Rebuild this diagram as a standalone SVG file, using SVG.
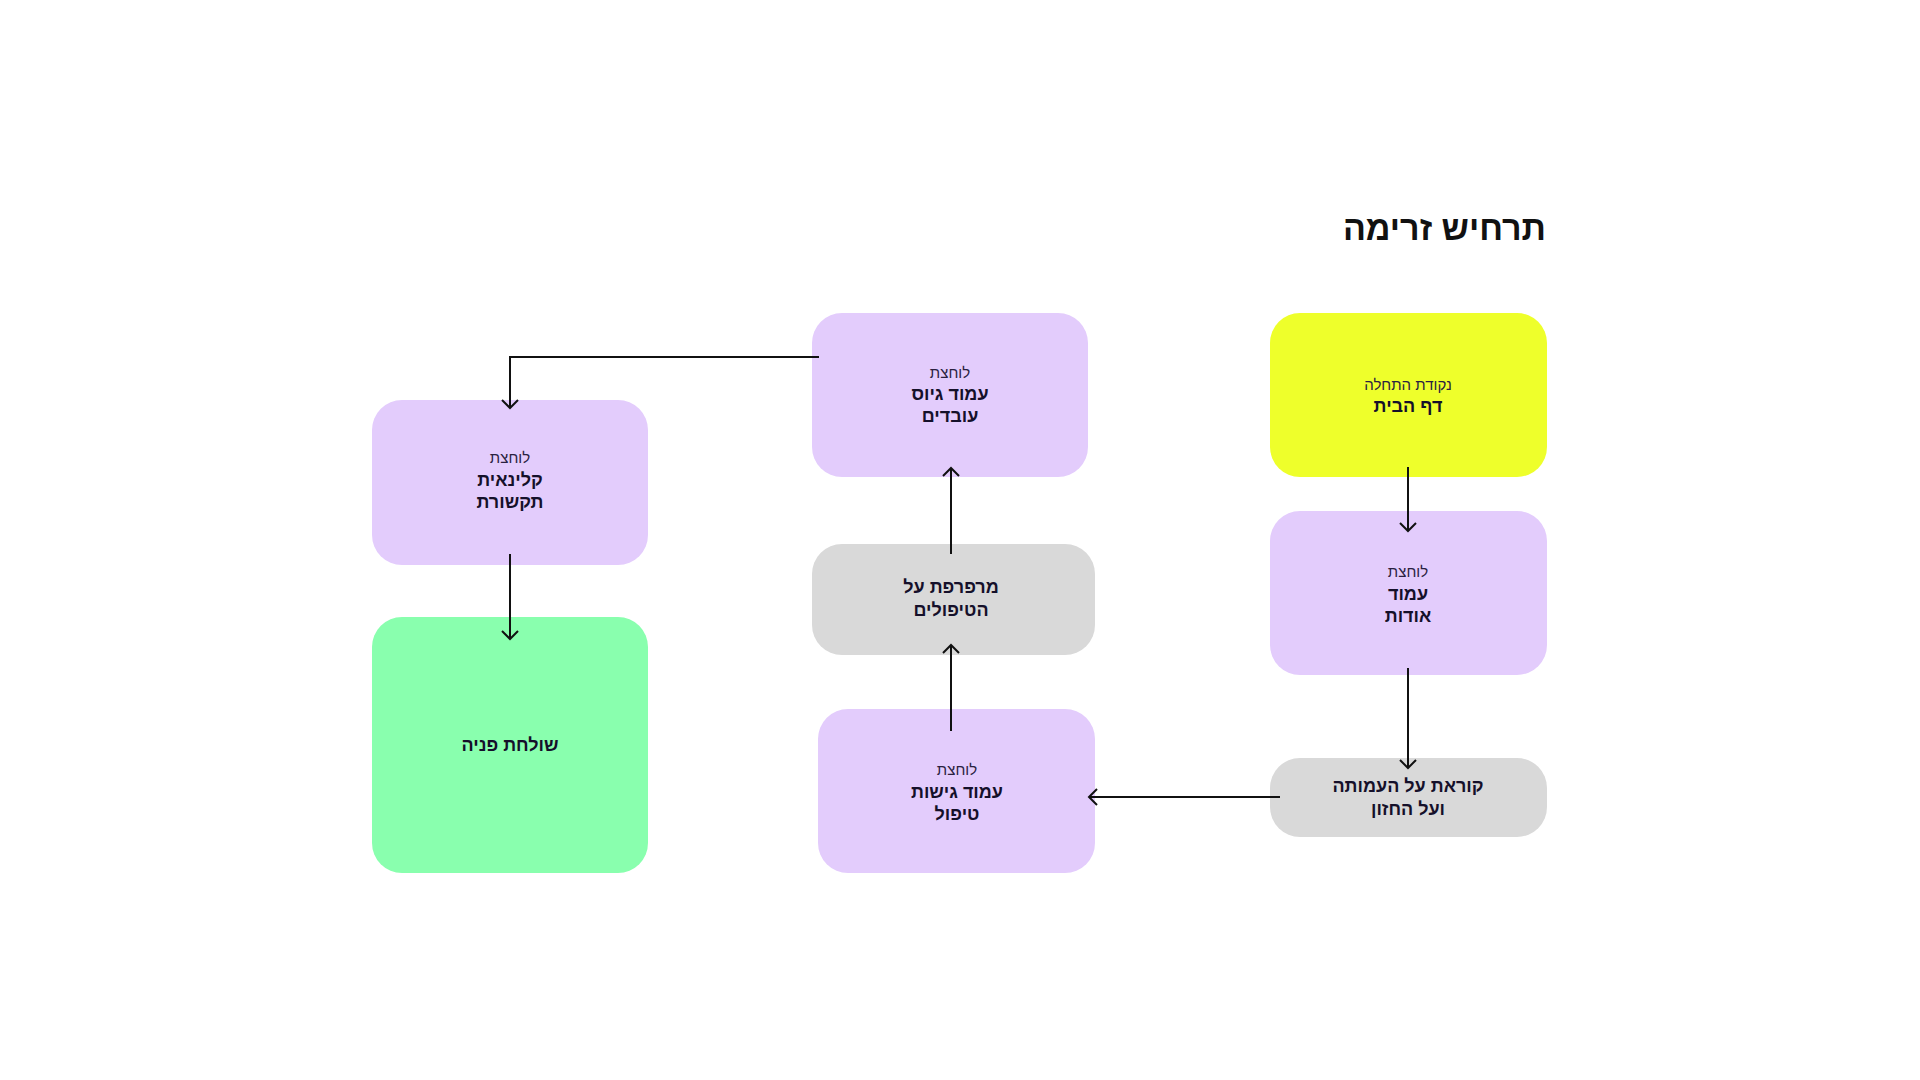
<svg xmlns="http://www.w3.org/2000/svg" width="1920" height="1080" viewBox="0 0 1920 1080">
<defs>
<style>
.bg{fill:#ffffff}
.purple{fill:#E3CCFC}
.yellow{fill:#EEFF2B}
.gray{fill:#D9D9D9}
.green{fill:#89FFAE}
.sub{font-family:"Liberation Sans","DejaVu Sans",sans-serif;font-size:15px;fill:#2a2140;text-anchor:middle}
.main{font-family:"Liberation Sans","DejaVu Sans",sans-serif;font-size:18px;font-weight:bold;fill:#15102a;text-anchor:middle}
.title{font-family:"Liberation Sans","DejaVu Sans",sans-serif;font-size:34px;font-weight:bold;fill:#111111;text-anchor:end}
.conn{fill:none;stroke:#111111;stroke-width:2}
</style>
<marker id="arr" markerUnits="userSpaceOnUse" viewBox="-10 -10 20 20" markerWidth="20" markerHeight="20" refX="0" refY="0" orient="auto">
<path d="M-8,-8 L0,0 L-8,8" fill="none" stroke="#111111" stroke-width="2"/>
</marker>
</defs>
<rect class="bg" x="0" y="0" width="1920" height="1080"/>
<text class="title" x="1546" y="240">תרחיש זרימה</text>

<g id="node-home">
<rect class="yellow" x="1270" y="313" width="277" height="164" rx="30"/>
<text class="sub" x="1408" y="390">נקודת התחלה</text>
<text class="main" x="1408" y="412">דף הבית</text>
</g>
<g id="node-about">
<rect class="purple" x="1270" y="511" width="277" height="164" rx="30"/>
<text class="sub" x="1408" y="577">לוחצת</text>
<text class="main" x="1408" y="600">עמוד</text>
<text class="main" x="1408" y="622">אודות</text>
</g>
<g id="node-reads">
<rect class="gray" x="1270" y="758" width="277" height="79" rx="30"/>
<text class="main" x="1408" y="792">קוראת על העמותה</text>
<text class="main" x="1408" y="815">ועל החזון</text>
</g>
<g id="node-approaches">
<rect class="purple" x="818" y="709" width="277" height="164" rx="30"/>
<text class="sub" x="957" y="775">לוחצת</text>
<text class="main" x="957" y="798">עמוד גישות</text>
<text class="main" x="957" y="820">טיפול</text>
</g>
<g id="node-browse">
<rect class="gray" x="812" y="544" width="283" height="111" rx="30"/>
<text class="main" x="951" y="593">מרפרפת על</text>
<text class="main" x="951" y="616">הטיפולים</text>
</g>
<g id="node-recruit">
<rect class="purple" x="812" y="313" width="276" height="164" rx="30"/>
<text class="sub" x="950" y="378">לוחצת</text>
<text class="main" x="950" y="400">עמוד גיוס</text>
<text class="main" x="950" y="422">עובדים</text>
</g>
<g id="node-clinician">
<rect class="purple" x="372" y="400" width="276" height="165" rx="30"/>
<text class="sub" x="510" y="463">לוחצת</text>
<text class="main" x="510" y="486">קלינאית</text>
<text class="main" x="510" y="508">תקשורת</text>
</g>
<g id="node-send">
<rect class="green" x="372" y="617" width="276" height="256" rx="30"/>
<text class="main" x="510" y="751">שולחת פניה</text>
</g>

<g id="connectors">
<path class="conn" d="M1408,467 L1408,531" marker-end="url(#arr)"/>
<path class="conn" d="M1408,668 L1408,768" marker-end="url(#arr)"/>
<path class="conn" d="M1280,797 L1089,797" marker-end="url(#arr)"/>
<path class="conn" d="M951,731 L951,645" marker-end="url(#arr)"/>
<path class="conn" d="M951,554 L951,468" marker-end="url(#arr)"/>
<path class="conn" d="M819,357 L510,357 L510,408" marker-end="url(#arr)"/>
<path class="conn" d="M510,554 L510,639" marker-end="url(#arr)"/>
</g>
</svg>
